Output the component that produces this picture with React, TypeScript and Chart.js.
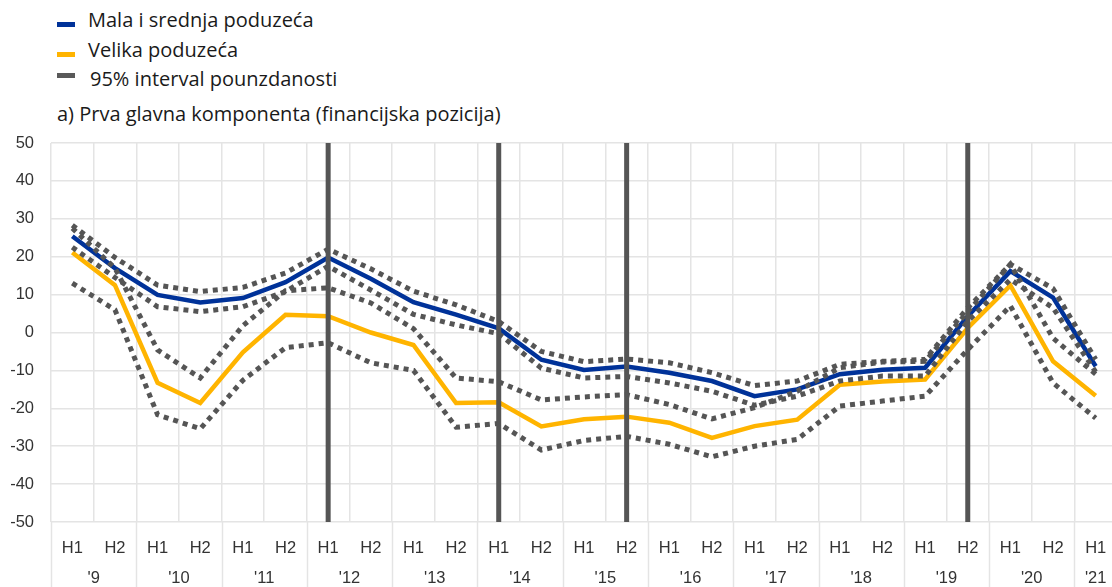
import React, { useEffect, useRef } from "react";
import { Chart, registerables } from "chart.js";

Chart.register(...registerables);

// ---- data ----
const halfLabels = [
  "H1", "H2", "H1", "H2", "H1", "H2", "H1", "H2", "H1", "H2", "H1", "H2", "H1",
  "H2", "H1", "H2", "H1", "H2", "H1", "H2", "H1", "H2", "H1", "H2", "H1",
];
const yearLabels = ["'9", "'10", "'11", "'12", "'13", "'14", "'15", "'16", "'17", "'18", "'19", "'20", "'21"];
const yearCenters = [0.5, 2.5, 4.5, 6.5, 8.5, 10.5, 12.5, 14.5, 16.5, 18.5, 20.5, 22.5, 24];
const yearStarts = [-0.5, 1.5, 3.5, 5.5, 7.5, 9.5, 11.5, 13.5, 15.5, 17.5, 19.5, 21.5, 23.5, 24.5];

const smeValues = [25.4, 17.0, 9.9, 7.9, 9.1, 13.3, 19.8, 14.2, 8.0, 4.7, 1.1, -7.2, -9.9, -9.0, -10.6, -12.8, -16.8, -15.0, -11.0, -9.8, -9.3, 4.3, 16.2, 9.2, -8.9];
const smeUpper = [28.3, 19.8, 12.5, 10.8, 11.9, 15.7, 22.0, 16.8, 10.9, 7.3, 2.9, -5.0, -7.7, -7.0, -8.0, -10.6, -14.0, -12.8, -8.4, -7.6, -7.1, 6.5, 18.0, 11.6, -7.1];
const smeLower = [22.5, 14.5, 6.8, 5.5, 6.8, 10.8, 17.5, 11.2, 4.8, 2.0, -0.3, -9.4, -12.0, -11.6, -13.3, -15.5, -19.2, -16.8, -12.8, -11.5, -11.5, 3.0, 14.0, 6.5, -10.4];
const largeValues = [21.1, 12.5, -13.3, -18.6, -5.2, 4.7, 4.3, 0.0, -3.3, -18.6, -18.4, -24.8, -22.9, -22.2, -23.8, -27.8, -24.7, -23.0, -13.8, -12.9, -12.4, 1.2, 12.4, -7.6, -16.7];
const largeUpper = [27.5, 17.0, -4.6, -12.0, 1.8, 11.0, 11.8, 7.8, 1.0, -12.0, -13.0, -17.8, -17.0, -16.4, -19.0, -22.8, -19.8, -15.5, -9.3, -7.8, -7.6, 5.5, 18.0, -1.5, -11.0];
const largeLower = [13.0, 6.0, -21.7, -25.4, -12.6, -4.0, -2.7, -8.0, -10.0, -25.0, -24.0, -31.0, -28.5, -27.4, -29.5, -32.8, -30.0, -28.2, -19.4, -18.1, -16.8, -4.5, 7.0, -13.3, -22.6];

// periods marked with vertical bars (category indices)
const markerIndices = [6, 10, 13, 21];

const legendItems = [
  { label: "Mala i srednja poduzeća", color: "#003299" },
  { label: "Velika poduzeća", color: "#FFB400" },
  { label: "95% interval pounzdanosti", color: "#595959" },
];
const panelTitle = "a) Prva glavna komponenta (financijska pozicija)";

const BLUE = "#003299";
const YELLOW = "#FFB400";
const GREY_DOT = "#555555";
const GRID = "#e4e4e4";
const TICK_FONT = { family: "'Liberation Sans', Arial, sans-serif", size: 16.5 };

const overlayPlugin = {
  id: "overlay",
  afterDatasetsDraw(chart: any) {
    const { ctx, chartArea } = chart;
    const x = chart.scales.x;
    ctx.save();
    ctx.strokeStyle = "#555555";
    ctx.lineWidth = 5;
    ctx.lineCap = "butt";
    markerIndices.forEach((i) => {
      const px = x.getPixelForValue(i);
      ctx.beginPath();
      ctx.moveTo(px, chartArea.top);
      ctx.lineTo(px, chartArea.bottom);
      ctx.stroke();
    });
    ctx.restore();
  },
  afterDraw(chart: any) {
    const { ctx, chartArea } = chart;
    const x = chart.scales.x;
    ctx.save();
    ctx.strokeStyle = GRID;
    ctx.lineWidth = 1.5;
    yearStarts.forEach((v) => {
      const px = Math.round(x.getPixelForValue(v)) + 0.5;
      ctx.beginPath();
      ctx.moveTo(px, chartArea.bottom);
      ctx.lineTo(px, chart.height);
      ctx.stroke();
    });
    ctx.restore();
  },
};

function ChartCanvas() {
  const ref = useRef<HTMLCanvasElement | null>(null);
  useEffect(() => {
    if (!ref.current) return;
    const dotted = (data: number[]) => ({
      data,
      borderColor: GREY_DOT,
      borderWidth: 5,
      borderDash: [5, 5],
      borderCapStyle: "butt",
      pointRadius: 0,
      tension: 0,
      fill: false,
      order: 0,
    });
    const chart = new Chart(ref.current, {
      type: "line",
      data: {
        labels: halfLabels,
        datasets: [
          { ...dotted(smeUpper), label: "sme upper" },
          { ...dotted(smeLower), label: "sme lower" },
          { ...dotted(largeUpper), label: "large upper" },
          { ...dotted(largeLower), label: "large lower" },
          {
            label: legendItems[0].label,
            data: smeValues,
            borderColor: BLUE,
            borderWidth: 4.5,
            pointRadius: 0,
            tension: 0,
            fill: false,
            order: 1,
          },
          {
            label: legendItems[1].label,
            data: largeValues,
            borderColor: YELLOW,
            borderWidth: 4.5,
            pointRadius: 0,
            tension: 0,
            fill: false,
            order: 2,
          },
        ],
      },
      options: {
        responsive: false,
        animation: false,
        layout: { padding: { top: 18, right: 1, left: 0, bottom: 0 } },
        plugins: { legend: { display: false }, tooltip: { enabled: false }, title: { display: false } },
        scales: {
          x: {
            type: "category",
            position: "bottom",
            offset: true,
            weight: 0,
            grid: { offset: true, color: GRID, lineWidth: 1.5, drawTicks: false },
            border: { display: false },
            ticks: { font: TICK_FONT, color: "#333333", padding: 17, autoSkip: false, maxRotation: 0 },
            afterFit: (s: any) => { s.height = 37; s.paddingLeft = 0; s.paddingRight = 0; },
          },
          xYear: {
            type: "linear",
            axis: "x",
            position: "bottom",
            weight: 1,
            min: -0.5,
            max: 24.5,
            bounds: "data",
            grid: { display: false, drawTicks: false },
            border: { display: false },
            afterBuildTicks: (s: any) => { s.ticks = yearCenters.map((v) => ({ value: v })); },
            ticks: {
              font: TICK_FONT,
              color: "#333333",
              padding: 10,
              autoSkip: false,
              maxRotation: 0,
              callback: (_v: any, i: number) => yearLabels[i],
            },
            afterFit: (s: any) => { s.height = 28; s.paddingLeft = 0; s.paddingRight = 0; },
          },
          y: {
            min: -50,
            max: 50,
            ticks: { stepSize: 10, font: TICK_FONT, color: "#333333", padding: 17 },
            grid: { color: GRID, lineWidth: 1.5, drawTicks: false },
            border: { display: false },
            afterFit: (s: any) => { s.width = 51; s.paddingTop = 0; s.paddingBottom = 0; },
          },
        },
      },
      plugins: [overlayPlugin],
    } as any);
    return () => chart.destroy();
  }, []);
  return <canvas ref={ref} width={1118} height={462} style={{ position: "absolute", left: 0, top: 125 }} />;
}

export default function App() {
  const textFont = "'Open Sans', 'Noto Sans', sans-serif";
  const rowCenters = [20, 50, 79];
  return (
    <div style={{ position: "absolute", left: 0, top: 0, width: 1112, height: 587, overflow: "hidden", background: "#ffffff" }}>
      {legendItems.map((item, i) => (
        <div key={item.label}>
          <div
            style={{
              position: "absolute",
              left: 57,
              top: rowCenters[i] + (i === 2 ? -6 : 2),
              width: 18,
              height: 5,
              background: item.color,
            }}
          />
          <div
            style={{
              position: "absolute",
              left: i === 2 ? 90 : 88,
              top: rowCenters[i] - 14,
              height: 28,
              lineHeight: "28px",
              fontFamily: textFont,
              fontSize: 20,
              color: "#1a1a1a",
              whiteSpace: "nowrap",
            }}
          >
            {item.label}
          </div>
        </div>
      ))}
      <div
        style={{
          position: "absolute",
          left: 57,
          top: 114 - 14,
          height: 28,
          lineHeight: "28px",
          fontFamily: textFont,
          fontSize: 20,
          color: "#1a1a1a",
          whiteSpace: "nowrap",
        }}
      >
        {panelTitle}
      </div>
      <ChartCanvas />
    </div>
  );
}
